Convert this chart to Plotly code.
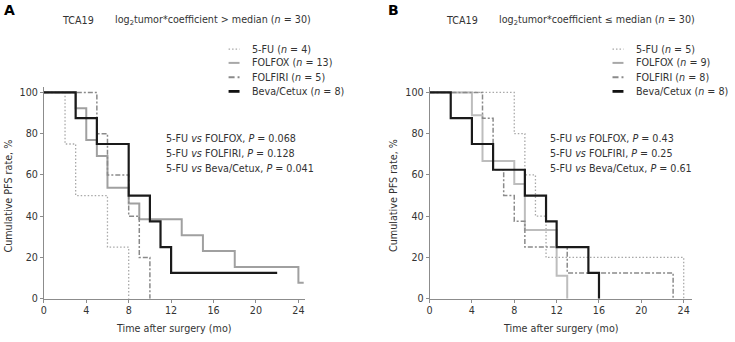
import plotly.graph_objects as go

W, H = 735, 342

# ---------------- DATA ----------------
# Panel A: log2tumor*coefficient > median
a_5fu_t = [0, 2, 3, 6, 8]
a_5fu_s = [100, 75, 50, 25, 0]
a_folfox_t = [0, 3, 4, 5, 6, 8, 9, 13, 15, 18, 24, 24.5]
a_folfox_s = [100, 92.3, 76.9, 69.2, 53.8, 46.2, 38.5, 30.8, 23.1, 15.4, 7.7, 7.7]
a_folfiri_t = [0, 5, 6, 8, 9, 10]
a_folfiri_s = [100, 80, 60, 40, 20, 0]
a_beva_t = [0, 3, 5, 8, 10, 11, 12, 22]
a_beva_s = [100, 87.5, 75, 50, 37.5, 25, 12.5, 12.5]

# Panel B: log2tumor*coefficient <= median
b_5fu_t = [0, 8, 9, 10, 11, 24]
b_5fu_s = [100, 80, 60, 40, 20, 0]
b_folfox_t = [0, 4, 5, 8, 9, 12, 13]
b_folfox_s = [100, 88.9, 66.7, 55.6, 33.3, 11.1, 0]
b_folfiri_t = [0, 5, 6, 7, 8, 9, 13, 23]
b_folfiri_s = [100, 87.5, 62.5, 50, 37.5, 25, 12.5, 0]
b_beva_t = [0, 2, 4, 6, 9, 11, 12, 15, 16]
b_beva_s = [100, 87.5, 75, 62.5, 50, 37.5, 25, 12.5, 0]

legend_a = ["5-FU (<i>n</i> = 4)", "FOLFOX (<i>n</i> = 13)", "FOLFIRI (<i>n</i> = 5)", "Beva/Cetux (<i>n</i> = 8)"]
legend_b = ["5-FU (<i>n</i> = 5)", "FOLFOX (<i>n</i> = 9)", "FOLFIRI (<i>n</i> = 8)", "Beva/Cetux (<i>n</i> = 8)"]
pvals_a = ["0.068", "0.128", "0.041"]
pvals_b = ["0.43", "0.25", "0.61"]
comparators = ["FOLFOX", "FOLFIRI", "Beva/Cetux"]
x_ticks = [0, 4, 8, 12, 16, 20, 24]
y_ticks = [0, 20, 40, 60, 80, 100]

# ---------------- STYLE ----------------
FONT = "DejaVu Sans"
FS = 9.6
TXT = "#333333"
styles = [
    dict(color="#a8a8a8", width=1.3, dash="1.5px,2px"),        # 5-FU
    dict(color="#a0a0a0", width=2.0, dash="solid"),            # FOLFOX
    dict(color="#8a8a8a", width=1.5, dash="5px,2px,2px,2px"),  # FOLFIRI
    dict(color="#1a1a1a", width=2.2, dash="solid"),            # Beva/Cetux
]
styles_b = [dict(s) for s in styles]
styles_b[1]["color"] = "#bdbdbd"
leg_styles = [
    dict(color="#a8a8a8", width=1.3, dash="1.5px,2px"),
    dict(color="#a8a8a8", width=2.0, dash="solid"),
    dict(color="#8a8a8a", width=2.0, dash="6px,3px,2px,3px"),
    dict(color="#111111", width=2.8, dash="solid"),
]

def px(x):
    return x / W

def py(y):
    return 1 - y / H

fig = go.Figure()

panelA = [(a_5fu_t, a_5fu_s), (a_folfox_t, a_folfox_s), (a_folfiri_t, a_folfiri_s), (a_beva_t, a_beva_s)]
panelB = [(b_5fu_t, b_5fu_s), (b_folfox_t, b_folfox_s), (b_folfiri_t, b_folfiri_s), (b_beva_t, b_beva_s)]

for (t, s), st in zip(panelA, styles):
    fig.add_trace(go.Scatter(x=t, y=s, mode="lines", line=dict(shape="hv", **st),
                             xaxis="x", yaxis="y", showlegend=False, hoverinfo="skip"))
for (t, s), st in zip(panelB, styles_b):
    fig.add_trace(go.Scatter(x=t, y=s, mode="lines", line=dict(shape="hv", **st),
                             xaxis="x2", yaxis="y2", showlegend=False, hoverinfo="skip"))

ax_common = dict(showline=True, linecolor="#8c8c8c", linewidth=1, ticks="outside",
                 ticklen=3, tickcolor="#8c8c8c", showgrid=False, zeroline=False,
                 tickfont=dict(family=FONT, size=FS, color=TXT), fixedrange=True)

fig.update_layout(
    width=W, height=H,
    margin=dict(l=0, r=0, t=0, b=0),
    paper_bgcolor="white", plot_bgcolor="white",
    showlegend=False,
    xaxis=dict(domain=[px(41), px(303)], range=[0, 24.6], tickvals=x_ticks, anchor="y", **ax_common),
    yaxis=dict(domain=[py(303), py(88)], range=[0, 102.4], tickvals=y_ticks, anchor="x", **ax_common),
    xaxis2=dict(domain=[px(428.3), px(692)], range=[0, 24.8], tickvals=x_ticks, anchor="y2", **ax_common),
    yaxis2=dict(domain=[py(303), py(88)], range=[0, 102.4], tickvals=y_ticks, anchor="x2", **ax_common),
)

ann = []
shapes = []

def text(x, y, s, size=FS, xanchor="left", color=TXT, **kw):
    ann.append(dict(x=px(x), y=py(y), xref="paper", yref="paper", text=s, showarrow=False,
                    xanchor=xanchor, yanchor="middle",
                    font=dict(family=FONT, size=size, color=color), **kw))

def panel(ox, letter, cond, legend, pvals, leg_line_x0, leg_text_x, stat_x):
    text(ox - 1, 9, "<b>%s</b>" % letter, size=14, color="#000000")
    text(ox + 57, 20, "TCA19")
    text(ox + 110, 20, "log<sub>2</sub>tumor*coefficient %s median (<i>n</i> = 30)" % cond)
    rows = [49, 63, 77.5, 92]
    for lab, st, ry in zip(legend, leg_styles, rows):
        shapes.append(dict(type="line", xref="paper", yref="paper",
                           x0=px(leg_line_x0), x1=px(leg_line_x0 + 11), y0=py(ry), y1=py(ry),
                           line=st))
        text(leg_text_x, ry, lab)
    for comp, p, ry in zip(comparators, pvals, [140, 155, 170]):
        text(stat_x, ry, "5-FU <i>vs</i> %s, <i>P</i> = %s" % (comp, p))
    text(ox + 6, 198, "Cumulative PFS rate, %", xanchor="center", textangle=-90)

panel(0, "A", "&gt;", legend_a, pvals_a, 226.5, 248, 162)
panel(386, "B", "≤", legend_b, pvals_b, 612, 634, 547)
text(172, 333, "Time after surgery (mo)", xanchor="center")
text(560, 333, "Time after surgery (mo)", xanchor="center")

fig.update_layout(annotations=ann, shapes=shapes)
fig.write_html(
    "out.html", config={"displayModeBar": False},
    post_script=("document.documentElement.style.margin='0';document.documentElement.style.overflow='hidden';"
                 "document.body.style.margin='0';document.body.style.padding='0';document.body.style.overflow='hidden';"),
)
